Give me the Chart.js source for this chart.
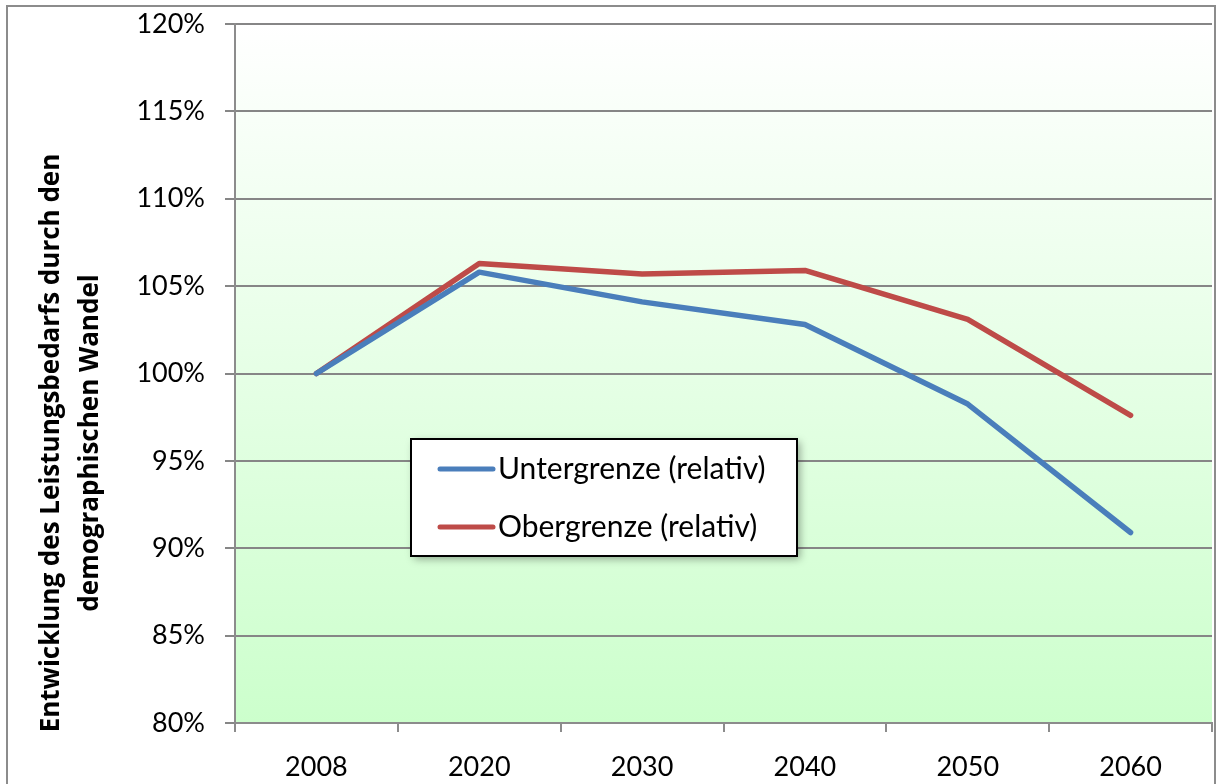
<!DOCTYPE html>
<html>
<head>
<meta charset="UTF-8">
<title>Leistungsbedarf demographischer Wandel</title>
<script src="https://cdn.jsdelivr.net/npm/chart.js"></script>
<style type="text/css">
	body { margin: 0; background: #fff; }
	#chartArea { width: 1219px; height: 784px; }
</style>
<script>
// Jahre und relative Entwicklung (in %, 2008 = 100 %)
var jahre = ['2008', '2020', '2030', '2040', '2050', '2060'];
var untergrenze = [100, 105.8, 104.1, 102.8, 98.25, 90.9];
var obergrenze = [100, 106.3, 105.7, 105.9, 103.1, 97.6];
var yTicks = [80, 85, 90, 95, 100, 105, 110, 115, 120];
var yTitel = ['Entwicklung des Leistungsbedarfs durch den', 'demographischen Wandel'];

var schrift = 'Lato, "Open Sans", sans-serif';

// Rahmen + Verlauf im Diagrammbereich
var hintergrund = {
	id: 'hintergrund',
	beforeDraw: function(chart) {
		var ctx = chart.ctx, a = chart.chartArea;
		ctx.save();
		ctx.fillStyle = '#fff';
		ctx.fillRect(0, 0, chart.width, chart.height);
		ctx.strokeStyle = '#8c8c8c';
		ctx.lineWidth = 2;
		ctx.strokeRect(7, 6, 1208, 820);
		var g = ctx.createLinearGradient(0, a.top, 0, a.bottom);
		g.addColorStop(0, '#ffffff');
		g.addColorStop(1, '#ccffcc');
		ctx.fillStyle = g;
		ctx.fillRect(a.left, a.top, a.right - a.left, a.bottom - a.top);
		ctx.restore();
	}
};

// Achsentitel links, zweizeilig
var achsentitel = {
	id: 'achsentitel',
	afterDraw: function(chart) {
		var ctx = chart.ctx;
		ctx.save();
		ctx.translate(0, 443);
		ctx.rotate(-Math.PI / 2);
		ctx.font = 'bold 26px "Open Sans", sans-serif';
		ctx.fillStyle = '#000';
		ctx.textAlign = 'center';
		ctx.textBaseline = 'middle';
		ctx.fillText(yTitel[0], 0, 52);
		ctx.fillText(yTitel[1], 0, 91);
		ctx.restore();
	}
};

// Legende als Kasten im Diagramm
var legende = {
	id: 'legende',
	afterDraw: function(chart) {
		var ctx = chart.ctx;
		var x = 411, y = 439, w = 386, h = 117;
		ctx.save();
		ctx.shadowColor = 'rgba(0,0,0,0.35)';
		ctx.shadowBlur = 8;
		ctx.shadowOffsetX = 3;
		ctx.shadowOffsetY = 3;
		ctx.fillStyle = '#fff';
		ctx.fillRect(x, y, w, h);
		ctx.shadowColor = 'transparent';
		ctx.strokeStyle = '#000';
		ctx.lineWidth = 2;
		ctx.strokeRect(x, y, w, h);
		ctx.font = '30px ' + schrift;
		ctx.textBaseline = 'middle';
		chart.data.datasets.forEach(function(ds, i) {
			var ly = 469 + i * 58;
			ctx.strokeStyle = ds.borderColor;
			ctx.lineWidth = 5;
			ctx.lineCap = 'round';
			ctx.beginPath();
			ctx.moveTo(440, ly);
			ctx.lineTo(493, ly);
			ctx.stroke();
			ctx.fillStyle = '#000';
			ctx.fillText(ds.label, 498, ly);
		});
		ctx.restore();
	}
};

window.onload = function() {
	var ctx = document.getElementById('myChart').getContext('2d');
	new Chart(ctx, {
		type: 'line',
		data: {
			labels: jahre,
			datasets: [{
				label: 'Untergrenze (relativ)',
				data: untergrenze,
				borderColor: '#4a7ebb',
				borderWidth: 5.5,
				borderCapStyle: 'round',
				borderJoinStyle: 'round',
				pointRadius: 0,
				tension: 0
			}, {
				label: 'Obergrenze (relativ)',
				data: obergrenze,
				borderColor: '#be4b48',
				borderWidth: 5.5,
				borderCapStyle: 'round',
				borderJoinStyle: 'round',
				pointRadius: 0,
				tension: 0
			}]
		},
		options: {
			responsive: false,
			animation: false,
			layout: { padding: { top: 24, right: 7, left: 0, bottom: 0 } },
			plugins: {
				legend: { display: false },
				tooltip: { enabled: false }
			},
			scales: {
				x: {
					offset: true,
					grid: {
						offset: true,
						drawOnChartArea: false,
						color: '#8c8c8c',
						lineWidth: 2,
						tickLength: 9
					},
					border: { color: '#8c8c8c', width: 2 },
					ticks: {
						color: '#000',
						font: { family: schrift, size: 27 },
						padding: 19,
						maxRotation: 0
					},
					afterFit: function(s) {
						s.height = 61;
						s.paddingLeft = 0;
						s.paddingRight = 0;
					}
				},
				y: {
					min: 80,
					max: 120,
					afterBuildTicks: function(s) {
						s.ticks = yTicks.map(function(v) { return { value: v }; });
					},
					grid: {
						color: '#868686',
						lineWidth: 2,
						tickLength: 10
					},
					border: { color: '#8c8c8c', width: 2 },
					ticks: {
						color: '#000',
						font: { family: schrift, size: 27 },
						padding: 20,
						callback: function(v) { return v + '%'; }
					},
					afterFit: function(s) {
						s.width = 235;
						s.paddingTop = 0;
						s.paddingBottom = 0;
					}
				}
			}
		},
		plugins: [hintergrund, achsentitel, legende]
	});
};
</script>
</head>
<body>
	<div id="chartArea">
		<canvas id="myChart" width="1219" height="784"></canvas>
	</div>
</body>
</html>
